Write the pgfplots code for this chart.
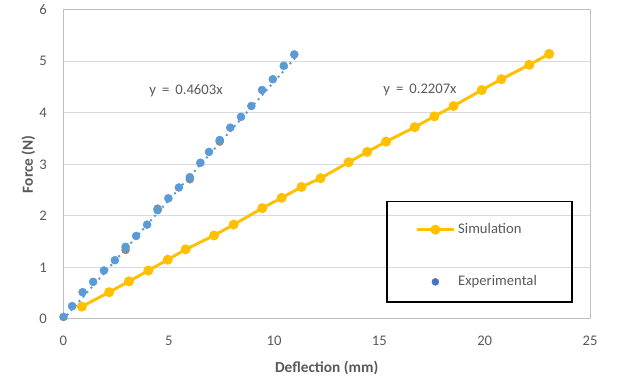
\documentclass[border=0pt]{standalone}
\usepackage{pgfplots}
\pgfplotsset{compat=1.18}
\usepackage{fontspec}
\setmainfont{Carlito}
\definecolor{simyel}{HTML}{FFC000}
\definecolor{expblue}{HTML}{5B9BD5}
\definecolor{legblue}{HTML}{4472C4}
\definecolor{txtgray}{HTML}{595959}
\definecolor{gridgray}{HTML}{D9D9D9}
\pgfplotsset{
  simleg/.style={legend image code/.code={\draw[mark repeat=2,mark phase=2,##1] plot coordinates {(0pt,0pt)(14pt,0pt)(28pt,0pt)};}},
  expleg/.style={legend image code/.code={\fill[legblue] (14pt,0pt) circle (2.6pt); \path[draw=none,fill=none] (0pt,0pt) -- (26pt,0pt);}},
}
\begin{document}
\begin{tikzpicture}
\begin{axis}[
  scale only axis, width=394.9pt, height=232.05pt,
  xmin=0, xmax=25, ymin=0, ymax=6,
  xtick={0,5,...,25}, ytick={0,1,...,6},
  major tick length=0pt,
  ymajorgrids, grid style={gridgray, line width=0.75pt},
  axis line style={draw=black!25, line width=0.75pt},
  tick label style={font=\fontsize{11}{13}\selectfont, text=txtgray},
  /pgf/number format/assume math mode=true,
  yticklabel style={xshift=-9pt},
  xticklabel style={yshift=-9pt},
  xlabel={Deflection (mm)}, ylabel={Force (N)},
  label style={font=\bfseries\fontsize{11.5}{13}\selectfont, text=txtgray},
  xlabel style={at={(axis description cs:0.5,-0.1584)}, anchor=center},
  ylabel style={at={(axis description cs:-0.0667,0.5)}, anchor=center},
  clip=false,
  legend cell align=left,
  legend style={draw=none, fill=none, font=\fontsize{11}{13}\selectfont, text=txtgray,
    inner sep=0pt, row sep=26pt, at={(rel axis cs:0.6676,0.3178)}, anchor=north west},
]
% hidden gray points
\addplot[only marks, mark=*, mark size=3pt, color=black!45, forget plot] coordinates {
(2.95,1.34) (4.47,2.14) (6.00,2.71) (7.42,3.44)};
% Experimental trendline
\addplot[expblue, line width=2.1pt, line cap=round, dash pattern=on 0pt off 4.5pt, forget plot] coordinates {(0,0) (11.0,5.063)};
% Simulation
\addplot[simyel, line width=2.2pt, mark=*, mark size=2.6pt, mark options={solid, fill=simyel, draw=simyel}, simleg] coordinates {
(0.87,0.24) (2.17,0.52) (3.11,0.73) (4.03,0.94) (4.95,1.15) (5.80,1.35) (7.15,1.62) (8.08,1.83)
(9.44,2.15) (10.36,2.35) (11.30,2.56) (12.21,2.73) (13.54,3.04) (14.42,3.24) (15.32,3.44)
(16.68,3.72) (17.61,3.93) (18.52,4.13) (19.86,4.44) (20.79,4.65) (22.12,4.93) (23.06,5.14)};
\addlegendentry{Simulation}
% Experimental
\addplot[only marks, mark=*, mark size=3pt, color=expblue, expleg] coordinates {
(0,0.04) (0.41,0.25) (0.91,0.52) (1.41,0.72) (1.92,0.94) (2.44,1.14) (2.95,1.40) (3.45,1.61)
(3.97,1.83) (4.47,2.11) (4.98,2.34) (5.48,2.55) (6.00,2.75) (6.50,3.03) (6.91,3.24) (7.42,3.47)
(7.92,3.71) (8.43,3.92) (8.92,4.13) (9.43,4.44) (9.94,4.65) (10.46,4.91) (10.96,5.13)};
\addlegendentry{Experimental}
\node[font=\fontsize{11}{13}\selectfont, text=txtgray] at (axis cs:5.82,4.42) {y\hspace{2pt} = \hspace{2pt}0.4603x};
\node[font=\fontsize{11}{13}\selectfont, text=txtgray] at (axis cs:16.93,4.45) {y\hspace{2pt} = \hspace{2pt}0.2207x};
\draw[black, line width=0.9pt] (rel axis cs:0.6144,0.381) rectangle (rel axis cs:0.9658,0.055);
\end{axis}
\pgfresetboundingbox
\path (-47.6pt,-46.5pt) rectangle (415.9pt,239.25pt);
\end{tikzpicture}
\end{document}
